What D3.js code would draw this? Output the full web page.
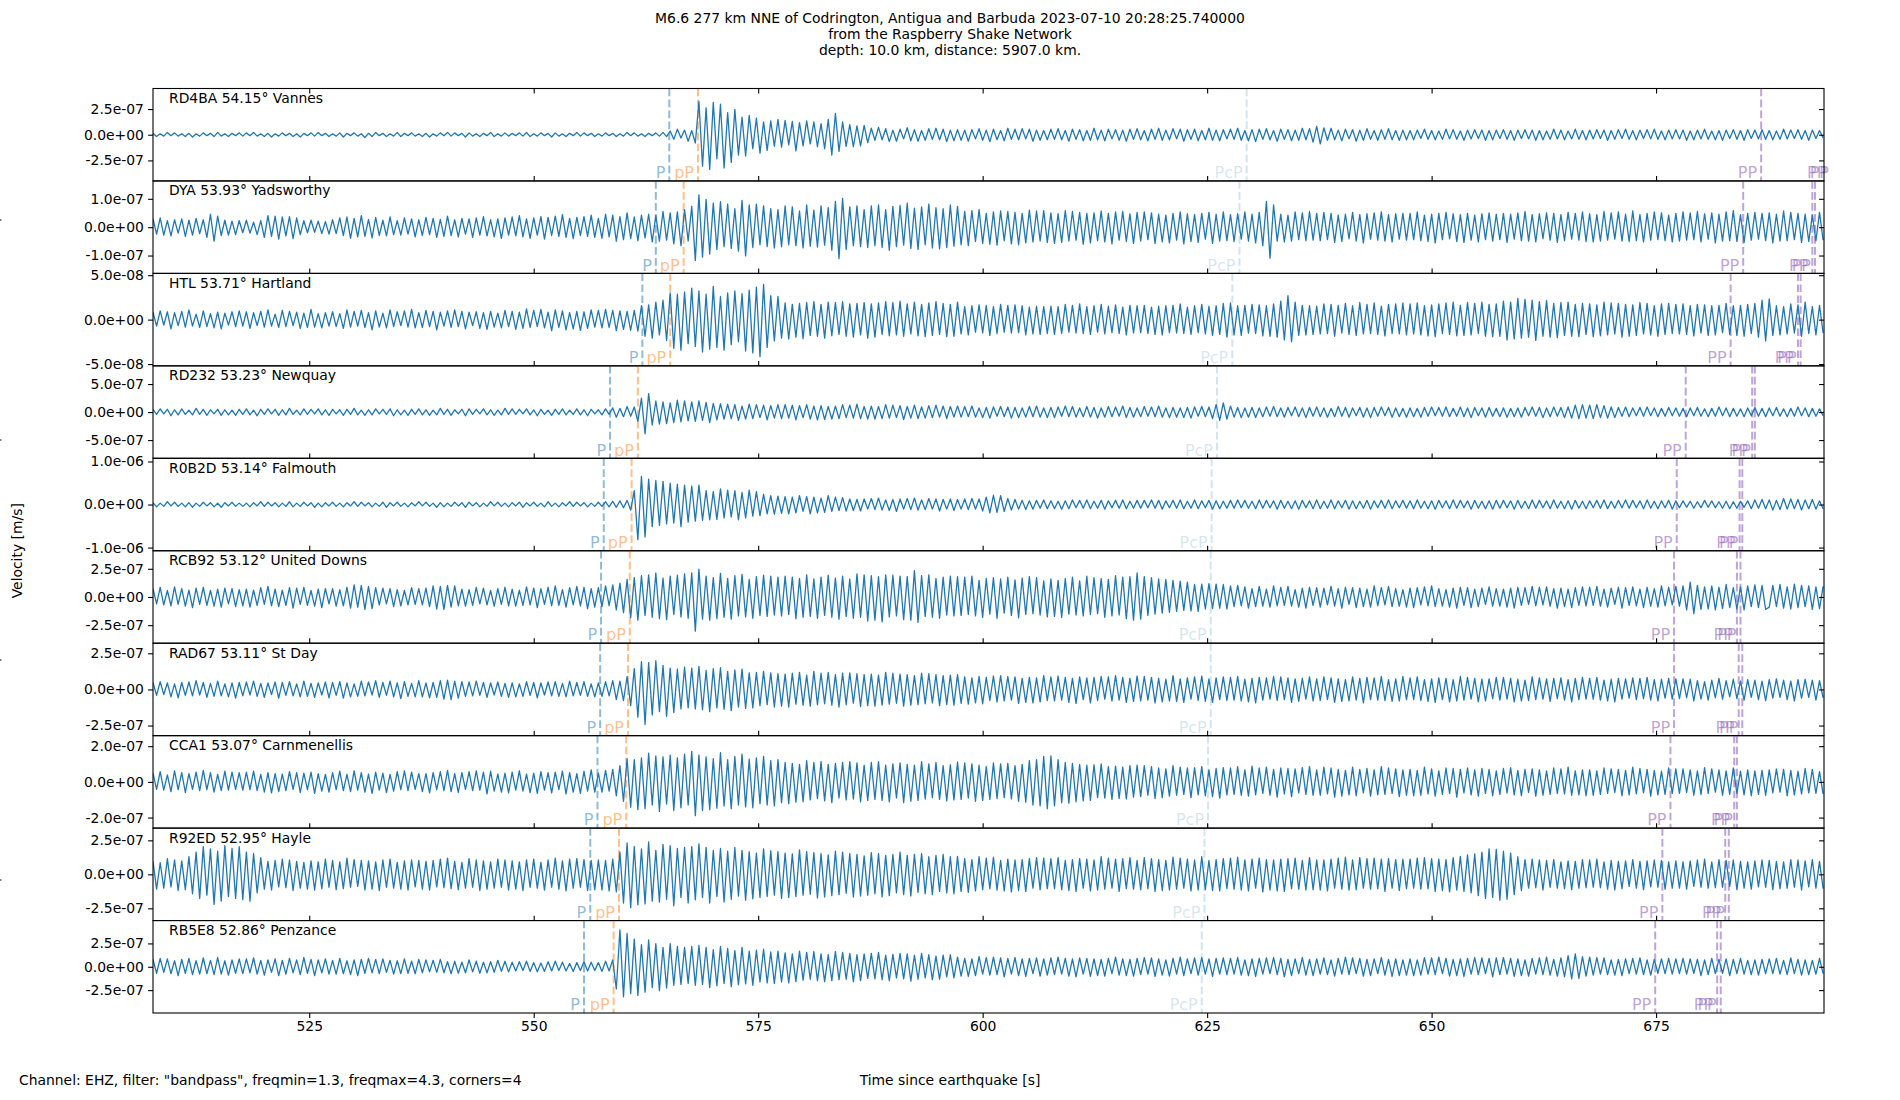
<!DOCTYPE html>
<html>
<head>
<meta charset="utf-8">
<script src="https://cdn.jsdelivr.net/npm/d3@7"></script>
<style>
  body { margin: 0; background: #fff; }
  svg { display: block; }
  text { font-family: "DejaVu Sans", sans-serif; }
</style>
</head>
<body>
<svg width="1900" height="1100"></svg>
<script>
// ---- data ----
const titleLines = [
  'M6.6 277 km NNE of Codrington, Antigua and Barbuda 2023-07-10 20:28:25.740000',
  'from the Raspberry Shake Network',
  'depth: 10.0 km, distance: 5907.0 km.'
];
const stations = ['RD4BA 54.15° Vannes', 'DYA 53.93° Yadsworthy', 'HTL 53.71° Hartland',
  'RD232 53.23° Newquay', 'R0B2D 53.14° Falmouth', 'RCB92 53.12° United Downs',
  'RAD67 53.11° St Day', 'CCA1 53.07° Carnmenellis', 'R92ED 52.95° Hayle', 'RB5E8 52.86° Penzance'];
const timeRange = [507.6, 693.7];
const xTicks = [525, 550, 575, 600, 625, 650, 675];
const yLimits = [4.5e-7, 1.63e-7, 5.2e-8, 8.25e-7, 1.074e-6, 4.1e-7, 3.2e-7, 2.59e-7, 3.4e-7, 4.95e-7];
const yTicks = [
  [-2.5e-7, 0, 2.5e-7], [-1e-7, 0, 1e-7], [-5e-8, 0, 5e-8], [-5e-7, 0, 5e-7], [-1e-6, 0, 1e-6],
  [-2.5e-7, 0, 2.5e-7], [-2.5e-7, 0, 2.5e-7], [-2e-7, 0, 2e-7], [-2.5e-7, 0, 2.5e-7], [-2.5e-7, 0, 2.5e-7]
];
// arrival times (s)
const pTimes = [565.1, 563.6, 562.1, 558.5, 557.8, 557.5, 557.4, 557.1, 556.3, 555.6];
const pPTimes = [568.3, 566.7, 565.2, 561.6, 560.9, 560.7, 560.5, 560.3, 559.5, 558.9];
const pcpTimes = [629.4, 628.6, 627.8, 626.1, 625.5, 625.4, 625.4, 625.1, 624.7, 624.4];
const ppTimes = [
  [686.7, 694.4, 694.7], [684.7, 692.4, 692.7], [683.3, 690.8, 691.1], [678.3, 685.7, 686.0],
  [677.3, 684.3, 684.6], [677.0, 684.0, 684.4], [677.0, 684.2, 684.6], [676.6, 683.7, 684.0],
  [675.7, 682.7, 683.1], [674.9, 681.8, 682.2]
];

// traces: peak values in percent of the panel's y limit,
// one row per 10 s starting at 507.6 s, one value per 0.4 s
const traceRD4BA = [
  [3,-4,2,-3,5,-2,4,-3,2,-4,3,-5,2,-3,4,-2,3,-4,5,-3,2,-4,3,-2,4],
  [-3,4,-2,5,-3,2,-4,3,-5,2,-3,4,-2,3,-4,2,-5,3,-2,4,-3,5,-2,3,-4],
  [2,-3,4,-5,3,-2,4,-3,2,-6,3,-4,5,-2,3,-4,2,-3,5,-4,3,-2,4,-3,2],
  [-4,3,-5,2,-3,4,-2,5,-3,4,-2,3,-5,4,-3,2,-4,3,-2,5,-4,2,-3,4,-3],
  [3,-2,4,-3,5,-4,2,-3,4,-2,3,-5,4,-3,2,-4,3,-2,5,-3,4,-2,3,-4,2],
  [-3,4,-2,3,-4,2,-3,5,-2,4,-3,2,-4,3,-2,4,-3,5,-4,8,-10,12,-7,10,-14],
  [9,-18,72,-68,58,-75,70,-52,66,-72,48,-60,55,-44,38,-46,42,-30,36,-40,28,-34,30,-25,33],
  [-27,31,-22,29,-35,26,-24,30,-20,28,-26,24,-30,33,-44,46,-36,28,-25,22,-26,19,-24,20,-17],
  [14,-12,16,-11,13,-15,10,-14,12,-9,15,-13,11,-14,9,-12,13,-10,14,-11,12,-15,10,-13,11],
  [-12,10,-14,11,-9,13,-12,10,-15,12,-11,9,-13,14,-10,12,-11,13,-9,12,-14,10,-12,9,-11],
  [12,-10,13,-11,9,-14,12,-10,11,-13,9,-12,14,-11,10,-13,12,-9,11,-12,10,-14,12,-10,13],
  [-11,9,-13,12,-10,14,-12,10,-11,13,-9,12,-14,11,-10,12,-13,9,-11,14,-12,10,-13,11,-9],
  [12,-10,14,-12,9,-13,11,-15,12,-10,13,-11,9,-14,12,-10,11,-13,10,-12,14,-11,13,-16,18],
  [-20,15,-12,14,-11,10,-13,12,-9,11,-14,10,-12,13,-10,9,-12,11,-10,13,-11,9,-12,10,-11],
  [9,-11,10,-8,12,-10,9,-11,8,-10,12,-9,11,-10,8,-12,10,-9,11,-8,10,-12,9,-11,10],
  [-8,11,-10,9,-12,10,-8,11,-9,10,-12,9,-11,8,-10,12,-9,10,-11,8,-9,12,-10,9,-11],
  [10,-9,11,-8,10,-12,9,-10,11,-8,12,-10,9,-11,10,-8,11,-9,12,-10,8,-11,10,-9,11],
  [-9,10,-12,8,-11,10,-9,12,-10,8,-11,9,-12,10,-8,11,-10,9,-12,11,-8,10,-9,11,-10],
  [9,-11,8,-10,12,-9,10,-8,11,-10,9,-12,10,-8,9,-7]
];
const traceDYA = [
  [18,-15,20,-17,14,-19,16,-13,18,-20,15,-17,19,-14,16,-22,28,-30,24,-18,15,-17,13,-16,14],
  [-12,15,-13,11,-16,14,-22,25,-20,24,-26,22,-19,23,-25,20,-16,14,-12,15,-11,13,-14,12,-15],
  [16,-14,20,-18,22,-24,19,-21,25,-20,17,-23,21,-18,15,-19,22,-16,14,-17,20,-15,18,-21,16],
  [-18,21,-16,19,-22,17,-20,24,-18,16,-21,19,-15,18,-22,20,-17,23,-19,16,-21,18,-24,20,-17],
  [22,-19,25,-21,18,-24,20,-17,23,-26,21,-18,24,-20,27,-22,19,-25,21,-18,23,-20,26,-22,19],
  [-24,28,-21,26,-30,23,-27,31,-25,22,-29,26,-23,28,-32,25,-30,34,-28,31,-36,33,-40,38,-30],
  [45,-72,70,-65,60,-58,52,-48,55,-42,50,-46,40,-52,58,-62,48,-44,50,-38,46,-42,40,-45,38],
  [-42,46,-38,44,-40,35,-45,48,-41,37,-43,46,-39,42,-50,56,-68,62,-48,44,-40,46,-42,38,-44],
  [46,-40,48,-44,38,-50,45,-42,47,-39,52,-46,41,-48,44,-38,50,-45,42,-47,40,-44,48,-41,45],
  [-38,34,-40,36,-31,38,-35,30,-37,33,-39,35,-29,34,-36,32,-38,30,-34,37,-32,35,-30,36,-33],
  [31,-35,29,-33,36,-30,34,-28,32,-37,30,-34,31,-29,35,-32,30,-36,33,-28,34,-31,29,-35,32],
  [-30,33,-27,31,-35,28,-32,26,-34,30,-28,33,-36,29,-31,27,-33,30,-26,32,-35,28,-30,33,-29],
  [27,-31,29,-26,33,-30,28,-34,32,-40,56,-67,48,-30,28,-32,26,-30,33,-27,31,-29,34,-28,30],
  [-29,32,-27,30,-33,26,-31,28,-25,32,-30,27,-34,29,-26,31,-28,33,-30,27,-32,29,-26,30,-28],
  [30,-27,33,-29,26,-31,28,-34,30,-27,32,-25,29,-31,27,-33,30,-28,26,-32,29,-27,31,-30,28],
  [-27,30,-33,28,-26,31,-29,34,-30,27,-32,29,-25,31,-28,30,-33,27,-29,32,-26,30,-28,33,-31],
  [29,-32,27,-30,34,-28,31,-26,33,-30,28,-31,35,-29,27,-32,30,-28,33,-27,31,-29,26,-32,30],
  [-30,33,-28,31,-27,34,-32,29,-26,31,-34,28,-30,33,-29,36,-31,27,-33,30,-28,32,-26,30,-29],
  [31,-34,28,-30,35,-29,32,-27,30,-33,28,-31,26,-29,32,-28]
];
const traceHTL = [
  [16,-14,19,-12,17,-20,15,-13,18,-16,21,-14,12,-17,19,-15,13,-18,16,-20,14,-12,17,-15,19],
  [-14,17,-19,15,-13,18,-16,21,-14,12,-17,20,-15,18,-13,16,-19,14,-17,22,-16,13,-18,15,-14],
  [17,-15,13,-19,21,-16,18,-14,20,-17,15,-22,19,-16,14,-18,21,-15,17,-13,19,-16,22,-18,15],
  [-17,20,-15,18,-22,16,-14,19,-17,21,-15,18,-20,16,-13,17,-19,15,-21,18,-16,14,-18,20,-15],
  [18,-21,16,-19,23,-17,20,-15,22,-18,16,-24,21,-17,19,-22,15,-20,18,-23,17,-19,21,-16,20],
  [-18,22,-17,20,-24,19,-21,18,-23,20,-25,30,-36,32,-40,38,-33,42,-45,58,-62,55,-66,60,-52],
  [68,-58,62,-70,55,-64,72,-60,50,-66,58,-54,62,-48,56,-68,64,-72,70,-80,76,-60,52,-46,50],
  [-40,36,-42,33,-38,35,-41,37,-34,39,-36,33,-40,38,-35,37,-32,39,-36,34,-38,35,-33,37,-40],
  [34,-38,36,-32,39,-35,37,-33,40,-36,34,-31,38,-35,33,-37,36,-34,39,-32,35,-37,33,-36,38],
  [-31,28,-33,30,-27,32,-29,31,-34,28,-30,33,-27,31,-29,32,-28,30,-33,27,-31,29,-32,28,-30],
  [29,-32,28,-30,33,-27,31,-29,34,-30,28,-32,30,-27,33,-31,29,-28,32,-30,27,-33,31,-29,30],
  [-28,31,-30,27,-32,29,-33,30,-28,31,-29,34,-30,27,-32,30,-28,33,-31,29,-34,30,-32,35,-38],
  [36,-33,30,-34,31,-29,33,-30,32,-35,30,-36,34,-38,40,-44,52,-48,38,-34,31,-33,30,-32,29],
  [-31,34,-30,33,-36,31,-29,35,-32,30,-34,37,-31,33,-30,36,-32,29,-35,33,-30,34,-31,36,-33],
  [34,-31,36,-33,30,-35,32,-37,34,-30,36,-32,38,-35,31,-34,37,-33,35,-30,38,-36,33,-37,34],
  [-36,40,-44,38,-42,46,-40,44,-38,42,-45,39,-36,41,-38,35,-39,37,-34,38,-36,33,-37,35,-32],
  [34,-37,32,-35,38,-33,36,-31,35,-38,33,-36,32,-34,37,-31,35,-33,30,-36,34,-32,35,-30,33],
  [-31,34,-32,30,-35,33,-29,32,-34,30,-33,31,-28,35,-32,30,-34,31,-36,33,-30,35,-38,42,-46],
  [45,-34,30,-33,28,-31,34,-29,32,-36,38,-30,28,-33,31,-29]
];
const traceRD232 = [
  [6,-5,7,-4,6,-8,5,-6,7,-5,4,-6,8,-5,6,-7,5,-4,6,-7,5,-6,4,-7,6],
  [-5,7,-6,4,-8,6,-5,7,-4,6,-7,5,-6,8,-5,4,-6,7,-5,6,-4,7,-6,5,-7],
  [6,-4,5,-7,6,-5,8,-6,4,-7,5,-6,7,-4,6,-5,7,-8,5,-6,4,-7,6,-5,7],
  [-6,5,-7,4,-6,8,-5,6,-7,5,-4,6,-8,7,-5,6,-4,7,-6,5,-7,4,-6,8,-5],
  [7,-5,6,-4,7,-6,5,-8,6,-5,4,-7,6,-5,7,-6,4,-5,7,-6,5,-8,6,-4,5],
  [-6,7,-5,9,-11,8,-10,12,-9,11,-20,30,-47,40,-28,24,-26,22,-25,20,-23,26,-21,24,-19],
  [22,-20,24,-18,21,-23,19,-17,18,-15,17,-14,16,-18,13,-15,17,-14,16,-12,15,-17,14,-13,16],
  [-14,16,-13,15,-17,14,-12,16,-15,13,-17,14,-16,12,-15,13,-14,16,-12,15,-13,17,-14,12,-15],
  [13,-15,12,-14,16,-13,15,-12,14,-16,12,-13,15,-14,11,-13,14,-12,15,-11,13,-14,12,-11,13],
  [-11,12,-10,13,-11,9,-12,10,-13,11,-9,12,-10,11,-13,10,-12,9,-11,12,-10,13,-11,9,-12],
  [10,-12,11,-9,13,-10,12,-11,9,-10,12,-11,10,-13,9,-11,12,-10,11,-9,13,-12,10,-11,9],
  [-10,12,-9,11,-10,13,-11,9,-12,10,-11,9,-12,10,-13,11,-9,12,-10,11,-14,16,-18,20,-15],
  [13,-11,10,-12,9,-11,10,-12,9,-10,11,-9,12,-10,9,-11,10,-8,11,-10,9,-12,10,-9,11],
  [-10,9,-11,8,-10,12,-9,10,-11,9,-8,10,-11,9,-12,10,-9,11,-8,10,-11,9,-10,8,-11],
  [9,-10,8,-11,10,-9,11,-8,10,-9,11,-10,8,-9,11,-10,9,-12,10,-8,9,-11,10,-9,8],
  [-10,9,-11,8,-10,9,-11,10,-8,11,-9,10,-12,9,-10,11,-9,10,-12,11,-13,15,-14,16,-13],
  [15,-14,16,-12,14,-13,11,-12,10,-9,11,-10,9,-8,10,-9,11,-8,9,-10,8,-9,10,-8,9],
  [-9,8,-10,9,-8,10,-9,7,-10,8,-9,11,-8,9,-10,8,-9,7,-10,9,-8,10,-9,8,-10],
  [9,-8,10,-9,7,-10,8,-9,11,-8,9,-10,8,-9,7,-8]
];
const traceR0B2D = [
  [4,-5,3,-4,6,-3,5,-4,3,-5,4,-6,3,-4,5,-3,4,-5,3,-6,4,-3,5,-4,3],
  [-4,3,-5,4,-3,6,-4,5,-3,4,-5,3,-4,6,-5,3,-4,5,-3,4,-6,3,-5,4,-3],
  [5,-4,3,-5,4,-3,6,-4,5,-3,4,-5,3,-4,5,-6,4,-3,5,-4,3,-5,4,-3,6],
  [-3,5,-4,3,-6,4,-5,3,-4,5,-3,4,-6,5,-3,4,-5,3,-4,6,-3,5,-4,3,-5],
  [4,-3,5,-6,4,-3,5,-4,3,-5,6,-4,3,-5,4,-3,6,-4,5,-3,4,-5,3,-4,5],
  [-4,6,-5,7,-6,8,-7,9,-12,30,-76,61,-70,55,-48,52,-45,50,-42,46,-40,44,-48,42,-38],
  [40,-36,42,-34,30,-33,28,-32,34,-29,31,-27,30,-33,26,-29,31,-25,28,-24,22,-20,19,-21,18],
  [-19,17,-20,16,-18,19,-15,17,-20,16,-18,14,-17,19,-15,16,-13,15,-14,12,-13,11,-14,12,-10],
  [13,-11,14,-12,10,-13,11,-15,12,-10,13,-11,14,-12,10,-11,13,-10,12,-14,11,-10,12,-13,11],
  [-10,12,-11,13,-10,12,-14,16,-18,20,-17,19,-15,13,-12,11,-10,9,-11,8,-10,9,-8,10,-9],
  [8,-9,7,-10,8,-9,10,-7,9,-8,10,-9,7,-8,9,-10,8,-7,9,-8,10,-9,7,-8,9],
  [-8,9,-7,10,-8,9,-10,8,-7,9,-8,10,-9,7,-8,10,-9,8,-7,9,-10,8,-9,7,-8],
  [9,-8,10,-7,9,-8,7,-9,10,-8,9,-7,8,-10,9,-8,7,-9,8,-10,9,-7,8,-9,10],
  [-9,7,-8,10,-9,8,-7,9,-10,8,-9,7,-8,9,-10,8,-7,9,-8,10,-9,8,-7,9,-8],
  [8,-9,10,-8,7,-9,8,-10,9,-7,8,-9,10,-8,9,-7,8,-10,9,-8,7,-9,8,-10,9],
  [-8,9,-7,8,-10,9,-8,7,-9,10,-8,9,-7,8,-9,10,-8,7,-9,8,-10,9,-8,7,-9],
  [8,-7,9,-8,10,-9,7,-8,9,-7,10,-8,9,-7,8,-9,10,-8,7,-9,8,-7,9,-10,8],
  [-7,8,-6,7,-8,6,-7,9,-6,8,-7,6,-8,7,-9,6,-8,7,-6,8,-9,10,-8,11,-9],
  [10,-12,9,-11,13,-10,12,-9,11,-12,10,-9,11,-10,8,-9]
];
const traceRCB92 = [
  [18,-15,21,-17,14,-19,22,-16,18,-20,15,-23,19,-16,21,-18,14,-20,17,-22,19,-15,18,-21,16],
  [-19,17,-22,15,-18,20,-16,23,-19,17,-21,15,-18,20,-24,19,-16,21,-18,14,-20,17,-23,18,-15],
  [18,-20,16,-19,21,-24,26,-22,25,-27,23,-25,20,-17,19,-15,18,-21,16,-19,14,-17,20,-16,18],
  [-17,19,-21,24,-26,23,-27,25,-22,24,-19,17,-20,16,-18,21,-15,19,-17,14,-20,18,-16,21,-19],
  [17,-20,15,-18,22,-17,19,-23,18,-16,21,-19,24,-18,16,-22,20,-17,23,-19,21,-25,18,-22,20],
  [-21,24,-19,26,-28,30,-34,38,-45,42,-50,46,-40,48,-44,52,-47,41,-49,45,-38,47,-43,50,-46],
  [52,-74,60,-48,45,-50,42,-47,51,-44,40,-48,46,-41,49,-43,38,-46,44,-40,47,-42,45,-39,43],
  [-41,45,-38,43,-47,40,-44,48,-42,39,-46,43,-40,47,-44,41,-48,45,-42,39,-46,50,-44,48,-52],
  [46,-50,44,-54,48,-43,47,-41,45,-49,44,-50,57,-55,46,-42,48,-44,40,-46,43,-39,45,-41,44],
  [-40,43,-38,45,-41,36,-44,40,-37,42,-46,39,-35,43,-40,37,-45,41,-38,44,-36,42,-39,35,-43],
  [39,-42,36,-44,40,-37,43,-39,35,-41,45,-38,42,-36,40,-44,38,-41,46,-39,43,-47,44,-50,52],
  [-48,44,-40,42,-37,39,-35,38,-33,36,-31,34,-29,32,-30,27,-31,28,-26,29,-25,28,-24,27,-26],
  [24,-21,25,-19,22,-24,18,-21,23,-20,17,-22,24,-19,21,-18,23,-20,16,-22,19,-24,21,-18,20],
  [-22,19,-17,23,-20,18,-24,21,-16,20,-23,19,-21,17,-22,24,-19,20,-17,23,-21,18,-20,16,-22],
  [19,-23,20,-17,22,-19,24,-21,18,-20,16,-22,19,-24,21,-18,20,-23,17,-21,19,-16,22,-20,18],
  [-20,17,-22,19,-24,21,-18,20,-16,23,-19,21,-17,22,-20,18,-24,19,-21,17,-23,20,-18,22,-19],
  [21,-18,23,-20,17,-22,19,-16,21,-24,20,-18,22,-19,17,-23,21,-20,18,-22,24,-19,21,-17,23],
  [-20,24,-28,32,-36,25,-27,22,-26,24,-28,21,-25,27,-23,20,-26,22,-28,24,-21,26,-23,25,-27],
  [-22,25,-21,27,-24,22,-26,28,-23,25,-21,24,-27,22,-25,23]
];
const traceRAD67 = [
  [15,-13,17,-11,14,-16,12,-18,15,-13,16,-14,19,-12,15,-17,13,-15,18,-14,12,-16,14,-19,15],
  [-14,16,-12,18,-15,13,-17,14,-11,16,-19,15,-13,17,-14,12,-16,18,-15,13,-17,14,-12,16,-18],
  [15,-13,17,-19,14,-16,12,-15,18,-14,16,-12,19,-17,15,-13,18,-16,14,-20,17,-15,13,-16,19],
  [-16,14,-18,15,-17,19,-21,20,-22,18,-19,17,-15,16,-14,18,-13,15,-17,14,-12,16,-15,13,-17],
  [14,-16,12,-15,17,-13,15,-18,14,-12,16,-14,17,-15,13,-16,18,-14,15,-13,17,-15,12,-16,14],
  [-15,17,-14,19,-22,18,-24,28,-35,45,-60,60,-76,58,-55,62,-48,52,-58,46,-50,44,-42,48,-40],
  [46,-42,50,-44,41,-48,45,-40,47,-43,39,-46,42,-38,44,-41,36,-40,37,-35,39,-33,36,-38,34],
  [-36,33,-38,35,-32,37,-34,31,-36,39,-33,35,-31,37,-34,32,-38,35,-33,36,-30,34,-37,32,-35],
  [33,-36,31,-34,37,-32,35,-30,33,-36,32,-34,30,-33,35,-31,34,-29,32,-35,30,-33,31,-34,32],
  [-30,27,-32,25,-29,28,-31,26,-24,29,-27,30,-25,28,-23,27,-30,24,-28,26,-29,25,-27,30,-24],
  [27,-25,29,-23,26,-28,24,-30,27,-22,25,-29,26,-24,28,-21,27,-25,30,-23,26,-28,24,-26,29],
  [-25,28,-23,26,-29,24,-27,22,-25,30,-26,23,-28,25,-21,27,-24,29,-26,23,-28,25,-22,27,-24],
  [26,-23,28,-25,22,-27,24,-29,26,-23,25,-21,28,-24,27,-22,25,-28,23,-26,24,-21,27,-25,23],
  [-24,27,-22,25,-28,23,-26,21,-25,27,-23,24,-29,26,-22,25,-23,28,-24,21,-26,23,-25,28,-22],
  [25,-22,27,-24,21,-26,23,-28,25,-22,24,-27,21,-25,28,-23,26,-21,24,-27,22,-25,23,-20,26],
  [-23,26,-21,24,-27,22,-25,20,-24,27,-22,25,-21,23,-26,24,-20,25,-23,21,-27,24,-22,26,-21],
  [24,-21,26,-23,20,-25,22,-27,24,-21,23,-19,25,-22,24,-20,26,-23,21,-25,22,-19,24,-21,23],
  [-20,23,-18,22,-25,19,-21,17,-23,20,-18,24,-21,19,-16,22,-20,18,-23,21,-17,20,-22,18,-24],
  [21,-19,23,-17,20,-22,18,-25,21,-19,22,-17,20,-23,19,-18]
];
const traceCCA1 = [
  [19,-16,22,-18,15,-21,24,-17,20,-23,18,-16,21,-19,25,-17,20,-22,16,-19,23,-18,21,-16,20],
  [-18,21,-17,23,-19,16,-22,20,-24,18,-21,17,-19,22,-16,20,-23,19,-17,21,-25,18,-20,16,-22],
  [20,-17,23,-19,16,-21,24,-18,20,-22,17,-25,21,-18,19,-23,16,-20,22,-17,24,-19,21,-16,18],
  [-21,18,-24,20,-17,22,-19,25,-21,18,-23,20,-16,22,-19,24,-18,21,-26,23,-20,17,-22,19,-24],
  [21,-18,24,-20,17,-23,19,-25,22,-18,20,-24,21,-17,23,-26,20,-22,18,-25,23,-20,26,-22,19],
  [-22,25,-20,27,-30,35,-42,50,-55,48,-60,52,-58,62,-50,56,-64,54,-48,58,-62,52,-56,60,-50],
  [66,-73,58,-62,54,-60,50,-57,63,-52,48,-58,55,-50,60,-54,49,-56,52,-47,55,-50,46,-52,48],
  [-45,42,-47,40,-44,38,-43,46,-39,42,-36,44,-41,38,-45,40,-35,42,-39,44,-37,41,-43,36,-40],
  [42,-38,44,-40,36,-43,39,-35,41,-45,38,-42,36,-40,44,-37,39,-34,42,-38,35,-41,37,-39,43],
  [-38,41,-35,39,-42,36,-40,33,-38,41,-36,39,-34,40,-37,35,-42,38,-44,46,-50,48,-52,55,-58],
  [56,-52,48,-45,42,-46,40,-43,38,-41,36,-40,37,-34,39,-35,33,-38,34,-36,32,-37,35,-33,36],
  [-32,35,-29,33,-36,30,-34,28,-31,35,-29,32,-27,30,-34,31,-28,33,-30,26,-32,29,-35,31,-28],
  [30,-27,33,-29,26,-31,34,-28,30,-25,32,-29,27,-33,30,-26,29,-32,28,-24,31,-27,33,-29,26],
  [-29,32,-26,30,-33,27,-31,25,-28,32,-30,27,-24,29,-31,26,-28,33,-27,30,-25,28,-32,26,-29],
  [27,-30,25,-29,32,-26,28,-31,24,-27,30,-25,29,-33,27,-24,30,-28,26,-31,29,-25,27,-30,24],
  [-27,29,-24,31,-28,25,-30,27,-23,28,-31,26,-29,24,-27,30,-25,28,-26,32,-29,24,-28,26,-30],
  [26,-29,24,-27,30,-25,28,-23,27,-30,25,-28,32,-26,29,-24,27,-31,25,-28,23,-27,30,-25,28],
  [-25,28,-23,26,-29,24,-27,31,-25,28,-22,26,-29,24,-27,30,-25,23,-28,26,-30,24,-27,25,-29],
  [26,-24,28,-22,27,-30,25,-28,23,-26,29,-24,27,-25,22,-26]
];
const traceR92ED = [
  [28,-32,25,-30,34,-27,31,-35,29,-33,38,-42,48,-52,60,-45,55,-65,50,-58,62,-48,56,-52,60],
  [-55,48,-58,45,-40,36,-32,28,-34,30,-27,33,-29,31,-35,28,-30,26,-32,29,-34,27,-31,33,-28],
  [30,-33,27,-31,35,-28,32,-26,30,-34,29,-32,27,-35,31,-28,33,-30,26,-32,29,-34,31,-27,30],
  [-32,28,-34,30,-27,33,-29,35,-31,28,-33,26,-30,34,-28,31,-35,29,-32,27,-30,33,-28,31,-34],
  [29,-32,27,-35,31,-28,33,-30,26,-34,31,-28,35,-32,29,-36,33,-30,34,-28,32,-35,30,-33,31],
  [-34,30,-36,33,-38,48,-62,68,-72,60,-66,55,-64,70,-58,52,-60,65,-54,62,-68,56,-50,58,-62],
  [60,-55,66,-50,58,-62,52,-48,56,-60,50,-54,58,-47,52,-56,49,-53,46,-50,55,-48,51,-45,49],
  [-52,46,-50,44,-48,53,-45,49,-43,47,-51,45,-49,42,-46,50,-44,48,-41,45,-49,43,-47,40,-45],
  [47,-42,45,-49,41,-46,43,-40,48,-44,41,-47,43,-39,45,-42,38,-44,41,-37,43,-40,38,-42,39],
  [-37,34,-39,32,-36,38,-33,35,-31,37,-34,30,-36,33,-38,31,-35,32,-37,34,-30,36,-33,35,-31],
  [34,-31,36,-33,30,-35,32,-37,34,-30,33,-36,31,-34,38,-32,35,-30,33,-37,34,-31,36,-32,30],
  [-33,36,-31,34,-37,32,-35,30,-34,37,-32,35,-30,33,-36,31,-34,38,-33,30,-35,32,-36,34,-31],
  [35,-32,37,-34,31,-36,33,-30,35,-38,32,-34,31,-36,33,-37,34,-31,35,-32,30,-34,36,-33,31],
  [-34,31,-36,33,-30,35,-32,37,-34,31,-33,36,-30,34,-32,35,-31,33,-37,34,-30,32,-35,33,-31],
  [33,-30,35,-32,36,-31,34,-37,33,-35,32,-38,36,-34,39,-37,42,-40,44,-46,48,-52,55,-50,54],
  [-56,50,-54,46,-44,38,-35,32,-30,33,-29,31,-34,30,-28,32,-30,27,-31,29,-33,28,-30,32,-29],
  [31,-28,33,-29,27,-32,30,-34,28,-31,29,-26,32,-30,28,-33,29,-27,31,-28,30,-32,27,-30,29],
  [-30,27,-32,29,-26,31,-28,33,-30,27,-29,32,-28,30,-26,31,-33,28,-30,27,-32,29,-27,31,-28],
  [30,-33,28,-31,27,-30,32,-28,31,-34,29,-27,32,-30,28,-31]
];
const traceRB5E8 = [
  [16,-14,18,-12,17,-15,13,-19,16,-14,18,-17,13,-16,19,-15,14,-17,20,-16,13,-18,15,-14,17],
  [-15,17,-13,19,-16,14,-18,15,-12,17,-19,14,-16,18,-13,15,-17,20,-14,16,-19,15,-13,17,-16],
  [14,-16,18,-15,13,-17,15,-19,16,-14,18,-13,16,-15,17,-12,14,-16,13,-15,17,-14,12,-15,16],
  [-13,15,-11,14,-12,16,-13,11,-15,12,-14,10,-13,15,-11,12,-14,10,-13,11,-12,14,-10,12,-11],
  [10,-9,11,-8,12,-10,9,-11,8,-10,11,-9,12,-8,10,-9,7,-10,9,-8,11,-9,10,-8,9],
  [-10,12,-9,15,-48,80,-65,72,-58,60,-62,48,-55,58,-45,50,-52,42,-46,50,-40,44,-38,42,-36],
  [44,-40,46,-38,42,-45,37,-41,44,-36,40,-43,35,-39,42,-37,34,-40,36,-33,38,-35,32,-36,34],
  [-33,30,-35,28,-32,34,-29,31,-27,33,-30,28,-32,26,-30,33,-28,31,-27,29,-32,26,-30,28,-25],
  [29,-26,31,-28,25,-30,27,-24,29,-26,28,-31,25,-27,29,-24,26,-28,23,-27,25,-22,26,-24,21],
  [-20,18,-21,17,-19,22,-16,20,-18,21,-17,19,-22,18,-16,20,-19,17,-21,18,-15,19,-20,17,-18],
  [19,-17,21,-16,18,-20,17,-22,19,-16,18,-21,17,-19,16,-20,18,-15,21,-18,17,-19,16,-20,18],
  [-17,20,-16,19,-21,17,-18,15,-20,18,-16,21,-19,17,-15,19,-18,20,-16,17,-21,18,-16,19,-17],
  [18,-16,20,-18,15,-19,17,-21,18,-16,19,-15,20,-17,18,-22,16,-19,17,-15,20,-18,16,-19,17],
  [-16,19,-17,15,-20,18,-16,21,-17,19,-15,18,-20,16,-19,17,-15,20,-18,16,-21,17,-19,15,-18],
  [17,-19,15,-18,20,-16,19,-17,21,-15,18,-20,16,-19,17,-21,18,-16,20,-17,19,-15,18,-22,19],
  [-17,20,-16,18,-21,17,-19,15,-20,18,-16,19,-17,21,-18,16,-20,19,-22,24,-26,28,-25,22,-20],
  [21,-18,20,-16,19,-17,15,-18,16,-19,17,-15,18,-16,19,-17,15,-18,16,-14,17,-15,18,-16,17],
  [-15,18,-16,17,-14,16,-19,15,-17,18,-15,16,-14,17,-19,16,-15,18,-16,14,-17,15,-18,16,-15],
  [17,-15,18,-16,14,-17,19,-15,16,-18,15,-17,14,-16,18,-15]
];
const traces = [traceRD4BA, traceDYA, traceHTL, traceRD232, traceR0B2D,
  traceRCB92, traceRAD67, traceCCA1, traceR92ED, traceRB5E8];
const rowStart = 507.6, rowSpan = 10, sampleStep = 0.4;

// ---- layout ----
const svg = d3.select('svg');
const W = 1900, H = 1100;
const plotL = 153, plotR = 1824, plotT = 88.5, plotB = 1013;
const nPanels = stations.length;
const ph = (plotB - plotT) / nPanels;
const tickLen = 4.9;
const fs = '13.9px';

const x = d3.scaleLinear().domain(timeRange).range([plotL, plotR]);

// exponent with two digits like matplotlib
const fmt = v => v.toExponential(1).replace(/e([+-])(\d)$/, 'e$10$2');

const phaseStyle = [
  {name: 'P', color: '#1f77b4', op: 0.5},
  {name: 'pP', color: '#ff7f0e', op: 0.5},
  {name: 'PcP', color: '#1f77b4', op: 0.2},
  {name: 'PP', color: '#9467bd', op: 0.6}
];

const line = d3.line();

stations.forEach((name, k) => {
  const py = plotT + k * ph;
  const lim = yLimits[k];
  const y = d3.scaleLinear().domain([-lim, lim]).range([py + ph, py]);
  const g = svg.append('g');

  svg.append('clipPath').attr('id', 'clip' + k)
    .append('rect').attr('x', plotL).attr('y', py).attr('width', plotR - plotL).attr('height', ph);

  // phase arrivals
  const arrivals = [[pTimes[k]], [pPTimes[k]], [pcpTimes[k]], ppTimes[k]];
  arrivals.forEach((times, i) => {
    const st = phaseStyle[i];
    times.forEach(t => {
      g.append('line')
        .attr('clip-path', 'url(#clip' + k + ')')
        .attr('x1', x(t)).attr('x2', x(t))
        .attr('y1', py).attr('y2', py + ph)
        .attr('stroke', st.color).attr('stroke-opacity', st.op)
        .attr('stroke-width', 2).attr('stroke-dasharray', '7.7,3.3');
      g.append('text')
        .attr('x', x(t) - 4).attr('y', py + ph - 2.8)
        .attr('text-anchor', 'end')
        .attr('font-size', '16px')
        .attr('fill', st.color).attr('fill-opacity', st.op)
        .text(st.name);
    });
  });

  // waveform
  const pts = [];
  traces[k].forEach((row, r) => {
    row.forEach((v, j) => pts.push([rowStart + r * rowSpan + j * sampleStep, v / 100 * lim]));
  });
  g.append('path')
    .attr('clip-path', 'url(#clip' + k + ')')
    .attr('d', line.x(d => x(d[0])).y(d => y(d[1]))(pts))
    .attr('fill', 'none').attr('stroke', '#1f77b4').attr('stroke-width', 1.3)
    .attr('stroke-linejoin', 'round');

  // y axes
  const ya = g.append('g').attr('transform', `translate(${plotL},0)`)
    .call(d3.axisLeft(y).tickValues(yTicks[k]).tickFormat(fmt).tickSize(tickLen).tickPadding(4.2));
  const yr = g.append('g').attr('transform', `translate(${plotR},0)`)
    .call(d3.axisRight(y).tickValues(yTicks[k]).tickFormat('').tickSize(-tickLen));

  // x ticks
  let xa;
  if (k < nPanels - 1) {
    xa = g.append('g').attr('transform', `translate(0,${py + ph})`)
      .call(d3.axisBottom(x).tickValues(xTicks).tickFormat('').tickSize(-tickLen));
  } else {
    xa = g.append('g').attr('transform', `translate(0,${py + ph})`)
      .call(d3.axisBottom(x).tickValues(xTicks).tickFormat(d3.format('d')).tickSize(tickLen).tickPadding(3.5));
  }
  if (k === 0) {
    g.append('g').attr('transform', `translate(0,${py})`)
      .call(d3.axisTop(x).tickValues(xTicks).tickFormat('').tickSize(-tickLen))
      .call(a => a.select('.domain').remove());
  }
  [ya, yr, xa].forEach(a => {
    a.select('.domain').remove();
    a.selectAll('text').attr('font-size', fs).attr('font-family', '"DejaVu Sans", sans-serif').attr('fill', '#000');
  });
  g.selectAll('.tick line').attr('stroke', '#000').attr('stroke-width', 1.1);

  // frame
  g.append('rect').attr('x', plotL).attr('y', py).attr('width', plotR - plotL).attr('height', ph)
    .attr('fill', 'none').attr('stroke', '#000').attr('stroke-width', 1.1);

  // station label
  g.append('text').attr('x', plotL + 16).attr('y', py + 14.5)
    .attr('font-size', fs).text(name);
});

// title
svg.append('g').selectAll('text').data(titleLines).join('text')
  .attr('x', W / 2).attr('y', (d, i) => 22.5 + i * 16)
  .attr('text-anchor', 'middle').attr('font-size', fs).text(d => d);

// labels
svg.append('text').attr('transform', `translate(17,${(plotT + plotB) / 2}) rotate(-90)`)
  .attr('text-anchor', 'middle').attr('dy', '0.35em').attr('font-size', fs).text('Velocity [m/s]');
svg.append('text').attr('x', 950).attr('y', 1085).attr('text-anchor', 'middle')
  .attr('font-size', fs).text('Time since earthquake [s]');
svg.append('text').attr('x', 19).attr('y', 1085)
  .attr('font-size', fs).text('Channel: EHZ, filter: "bandpass", freqmin=1.3, freqmax=4.3, corners=4');

// ticks of the hidden full-height axis at the left edge
const figY = d3.scaleLinear().domain([0, 1]).range([H, 0]);
svg.append('g').selectAll('line').data([0.2, 0.4, 0.6, 0.8]).join('line')
  .attr('x1', 0).attr('x2', 1.5).attr('y1', d => figY(d)).attr('y2', d => figY(d))
  .attr('stroke', '#000').attr('stroke-width', 1);
</script>
</body>
</html>
